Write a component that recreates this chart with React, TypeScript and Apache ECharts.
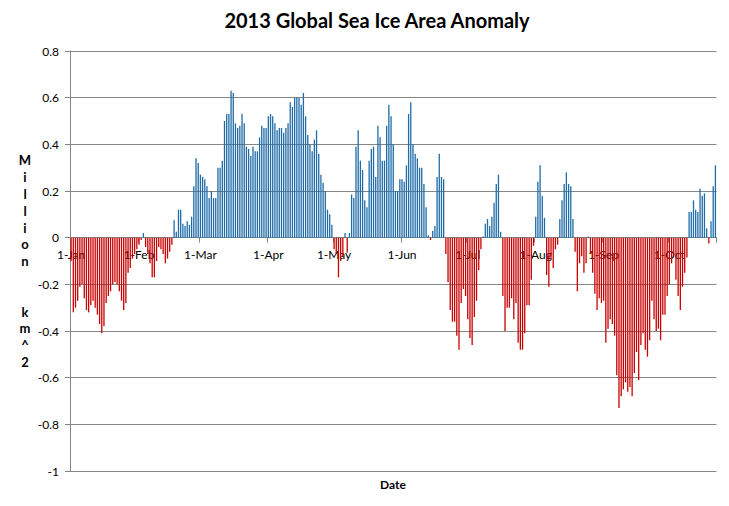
import React, { useEffect, useRef } from 'react';
import * as echarts from 'echarts';

const chartTitle = '2013 Global Sea Ice Area Anomaly';
const yAxisTitle = 'M\ni\nl\nl\ni\no\nn\n\n\nk\nm\n^\n2';
const xAxisTitle = 'Date';

const monthNames = ['Jan', 'Feb', 'Mar', 'Apr', 'May', 'Jun', 'Jul', 'Aug', 'Sep', 'Oct'];
const monthDays = [31, 28, 31, 30, 31, 30, 31, 31, 30, 22];

const janValues = [-0.10, -0.32, -0.30, -0.27, -0.21, -0.20, -0.26, -0.31, -0.32, -0.29, -0.27, -0.30, -0.33, -0.37, -0.41, -0.38, -0.28, -0.25, -0.23, -0.20, -0.19, -0.20, -0.23, -0.27, -0.31, -0.28, -0.15, -0.13, -0.09, -0.07, -0.05];
const febValues = [-0.03, -0.01, 0.02, -0.04, -0.07, -0.11, -0.17, -0.17, -0.10, -0.04, -0.05, -0.07, -0.11, -0.09, -0.06, -0.03, 0.075, 0.025, 0.12, 0.12, 0.06, 0.05, 0.07, 0.055, 0.09, 0.22, 0.34, 0.32];
const marValues = [0.27, 0.26, 0.25, 0.22, 0.17, 0.20, 0.17, 0.17, 0.30, 0.30, 0.33, 0.50, 0.53, 0.53, 0.63, 0.62, 0.49, 0.47, 0.48, 0.53, 0.49, 0.39, 0.38, 0.35, 0.39, 0.37, 0.37, 0.43, 0.48, 0.47, 0.47];
const aprValues = [0.52, 0.53, 0.52, 0.49, 0.46, 0.47, 0.47, 0.45, 0.47, 0.49, 0.58, 0.56, 0.60, 0.60, 0.60, 0.57, 0.62, 0.52, 0.44, 0.40, 0.37, 0.42, 0.46, 0.36, 0.27, 0.235, 0.20, 0.12, 0.10, 0.055];
const mayValues = [-0.05, -0.07, -0.17, -0.10, -0.08, 0.02, -0.065, 0.02, 0.185, 0.17, 0.39, 0.46, 0.33, 0.29, 0.16, 0.13, 0.33, 0.38, 0.39, 0.26, 0.48, 0.43, 0.33, 0.33, 0.48, 0.57, 0.52, 0.40, 0.20, 0.20, 0.25];
const junValues = [0.25, 0.24, 0.31, 0.53, 0.58, 0.40, 0.36, 0.34, 0.30, 0.30, 0.23, 0.13, 0.01, -0.01, 0.03, 0.05, 0.26, 0.36, 0.26, 0.25, -0.07, -0.19, -0.31, -0.36, -0.36, -0.42, -0.48, -0.28, -0.22, -0.25];
const julValues = [-0.35, -0.43, -0.46, -0.34, -0.27, -0.14, -0.05, 0.005, 0.06, 0.08, 0.05, 0.09, 0.15, 0.23, 0.27, 0.025, -0.25, -0.40, -0.30, -0.30, -0.26, -0.35, -0.28, -0.45, -0.48, -0.48, -0.41, -0.29, -0.29, -0.18, -0.035];
const augValues = [0.09, 0.24, 0.31, 0.18, 0.085, -0.16, -0.21, -0.09, -0.13, -0.05, -0.03, 0.08, 0.16, 0.23, 0.28, 0.23, 0.22, 0.08, -0.06, -0.23, -0.11, -0.08, -0.15, -0.11, 0.005, -0.07, -0.15, -0.24, -0.31, -0.26, -0.28];
const sepValues = [-0.27, -0.45, -0.39, -0.35, -0.37, -0.42, -0.59, -0.73, -0.68, -0.65, -0.62, -0.66, -0.64, -0.68, -0.58, -0.49, -0.61, -0.46, -0.41, -0.48, -0.51, -0.44, -0.27, -0.35, -0.40, -0.39, -0.44, -0.33, -0.33, -0.25];
const octValues = [-0.20, -0.11, -0.075, -0.18, -0.25, -0.31, -0.21, -0.15, -0.085, 0.11, 0.11, 0.16, 0.12, 0.11, 0.21, 0.18, 0.19, 0.04, -0.025, 0.07, 0.22, 0.31];

const anomalyValues = [
  ...janValues, ...febValues, ...marValues, ...aprValues, ...mayValues,
  ...junValues, ...julValues, ...augValues, ...sepValues, ...octValues,
];

const categories: string[] = [];
monthNames.forEach((m, mi) => {
  for (let d = 1; d <= monthDays[mi]; d++) categories.push(`${d}-${m}`);
});

const Y_MIN = -1;
const Y_MAX = 0.8;
const GRID_TOP = 51;
const GRID_BOTTOM = 35;
const CHART_H = 506;

const POS_COLOR = '#1f6ca8';
const NEG_COLOR = '#c80000';
const GRID_COLOR = '#868686';
const FONT = 'Lato, "Liberation Sans", Arial, sans-serif';

const isMonthStart = (_i: number, v: string) => v.startsWith('1-');

export default function App() {
  const ref = useRef<HTMLDivElement>(null);

  useEffect(() => {
    if (!ref.current) return;
    const chart = echarts.init(ref.current, null, { renderer: 'svg' });
    const plotH = CHART_H - GRID_TOP - GRID_BOTTOM;
    // move the category axis (line, ticks, labels) up to the zero line
    const zeroOffset = -(plotH * (0 - Y_MIN)) / (Y_MAX - Y_MIN);
    chart.setOption({
      animation: false,
      backgroundColor: '#ffffff',
      grid: { left: 70, right: 12.5, top: GRID_TOP, bottom: GRID_BOTTOM, containLabel: false },
      xAxis: {
        type: 'category',
        data: categories,
        boundaryGap: true,
        offset: zeroOffset,
        z: 0,
        axisLine: { onZero: false, lineStyle: { color: GRID_COLOR, width: 1 } },
        axisTick: { show: true, interval: isMonthStart, length: 5, lineStyle: { color: GRID_COLOR } },
        axisLabel: {
          interval: isMonthStart,
          margin: 11,
          fontSize: 12,
          fontFamily: FONT,
          color: '#000',
        },
        splitLine: { show: false },
      },
      yAxis: {
        type: 'value',
        min: Y_MIN,
        max: Y_MAX,
        interval: 0.2,
        z: 0,
        axisLine: { show: true, lineStyle: { color: GRID_COLOR, width: 1 } },
        axisTick: { show: true, length: 5, lineStyle: { color: GRID_COLOR } },
        axisLabel: {
          margin: 11,
          fontSize: 12,
          fontFamily: FONT,
          color: '#000',
          formatter: (v: number) => String(Math.round(v * 10) / 10),
        },
        splitLine: { show: true, lineStyle: { color: GRID_COLOR, width: 1 } },
      },
      series: [
        {
          type: 'bar',
          barWidth: 1.3,
          z: 10,
          data: anomalyValues.map((v) => ({
            value: v,
            itemStyle: { color: v >= 0 ? POS_COLOR : NEG_COLOR },
          })),
        },
      ],
      graphic: [
        {
          type: 'text',
          x: 377,
          y: 20,
          style: {
            text: chartTitle,
            fontFamily: FONT,
            fontSize: 20,
            fontWeight: 'bold',
            fill: '#000',
            align: 'center',
            verticalAlign: 'middle',
          },
        },
        {
          type: 'text',
          x: 25,
          y: 152,
          style: {
            text: yAxisTitle,
            fontFamily: FONT,
            fontSize: 13,
            fontWeight: 'bold',
            lineHeight: 16.8,
            fill: '#000',
            align: 'center',
            verticalAlign: 'top',
          },
        },
        {
          type: 'text',
          x: 393,
          y: 484,
          style: {
            text: xAxisTitle,
            fontFamily: FONT,
            fontSize: 12,
            fontWeight: 'bold',
            fill: '#000',
            align: 'center',
            verticalAlign: 'middle',
          },
        },
      ],
    });
    return () => chart.dispose();
  }, []);

  return (
    <div
      ref={ref}
      style={{ position: 'fixed', left: 0, top: 0, width: 729, height: 506, background: '#fff' }}
    />
  );
}
